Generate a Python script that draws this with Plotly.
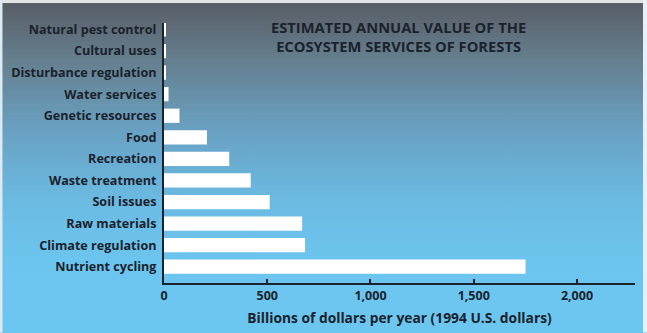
import base64
import plotly.graph_objects as go

# Estimated annual value of forest ecosystem services (billions of 1994 US$)
services = [
    "Nutrient cycling",
    "Climate regulation",
    "Raw materials",
    "Soil issues",
    "Waste treatment",
    "Recreation",
    "Food",
    "Genetic resources",
    "Water services",
    "Disturbance regulation",
    "Cultural uses",
    "Natural pest control",
]
values = [1751, 683, 669, 512, 420, 316, 208, 75, 22, 9, 9, 8]
x_ticks = [0, 500, 1000, 1500, 2000]
x_tick_text = ["0", "500", "1,000", "1,500", "2,000"]

W, H = 647, 333
L, R, T, B = 164.4, 12, 23, 49.7
pw, ph = W - L - R, H - T - B

ink = "#1b222c"
font_family = "Open Sans, Lato, sans-serif"

# Vertical grey-to-sky-blue backdrop with thin pale edges
svg = f"""<svg xmlns='http://www.w3.org/2000/svg' width='{W}' height='{H}' viewBox='0 0 {W} {H}' preserveAspectRatio='none'>
<defs><linearGradient id='g' x1='0' y1='0' x2='0' y2='1'>
<stop offset='0' stop-color='#585c64'/>
<stop offset='0.18' stop-color='#657f8e'/>
<stop offset='0.4' stop-color='#69a2c4'/>
<stop offset='0.6' stop-color='#6bbae2'/>
<stop offset='0.78' stop-color='#6cc5ee'/>
<stop offset='1' stop-color='#6cc7f0'/>
</linearGradient></defs>
<rect x='0' y='0' width='{W}' height='{H}' fill='url(#g)'/>
<rect x='0' y='0' width='{W}' height='3' fill='#e4e6e8'/>
<rect x='0' y='0' width='3' height='{H}' fill='#dcebf3'/>
<rect x='{W-4}' y='0' width='4' height='{H}' fill='#e6f2f8'/>
</svg>"""
bg_uri = "data:image/svg+xml;base64," + base64.b64encode(svg.encode()).decode()

fig = go.Figure(
    go.Bar(
        x=values,
        y=services,
        orientation="h",
        width=0.66,
        marker=dict(color="white", line=dict(width=0)),
        hoverinfo="x+y",
    )
)

fig.add_layout_image(
    dict(
        source=bg_uri,
        xref="paper",
        yref="paper",
        x=-L / pw,
        y=1 + T / ph,
        sizex=W / pw,
        sizey=H / ph,
        xanchor="left",
        yanchor="top",
        sizing="stretch",
        layer="below",
    )
)

fig.add_annotation(
    text="ESTIMATED ANNUAL VALUE OF THE<br>ECOSYSTEM SERVICES OF FORESTS",
    xref="paper",
    yref="paper",
    x=(399 - L) / pw,
    y=1 + (T - 15) / ph,
    xanchor="center",
    yanchor="top",
    showarrow=False,
    align="center",
    font=dict(family=font_family, size=14.7, color=ink, weight="bold"),
)

fig.update_layout(
    width=W,
    height=H,
    margin=dict(l=L, r=R, t=T, b=B, pad=0, autoexpand=False),
    paper_bgcolor="#6cc5ee",
    plot_bgcolor="rgba(0,0,0,0)",
    showlegend=False,
    bargap=0.34,
    font=dict(family=font_family, color=ink),
    xaxis=dict(
        automargin=False,
        range=[0, 2281],
        tickvals=x_ticks,
        ticktext=x_tick_text,
        ticks="inside",
        ticklen=4,
        tickwidth=1.5,
        tickcolor=ink,
        showline=True,
        linecolor=ink,
        linewidth=2,
        showgrid=False,
        zeroline=False,
        tickfont=dict(size=12.5, color=ink, weight="bold"),
        title=dict(
            text="Billions of dollars per year (1994 U.S. dollars)",
            font=dict(size=13.8, color=ink, weight="bold"),
            standoff=10,
        ),
    ),
    yaxis=dict(
        automargin=False,
        categoryorder="array",
        categoryarray=services,
        range=[-0.755, 11.3],
        showline=True,
        linecolor=ink,
        linewidth=2,
        ticks="",
        showgrid=False,
        zeroline=False,
        ticklabelstandoff=3,
        tickfont=dict(size=12.6, color=ink, weight="bold"),
    ),
)

fig.write_html("out.html")
